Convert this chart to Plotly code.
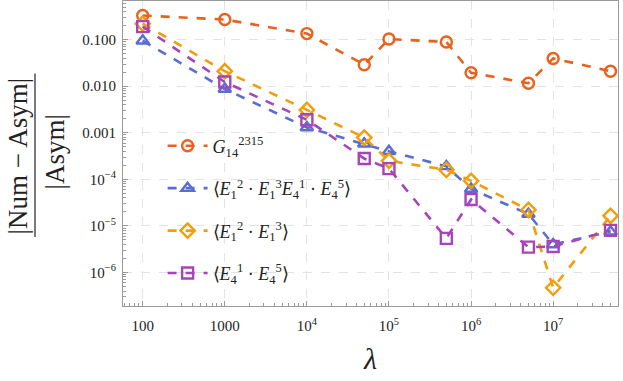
import plotly.graph_objects as go

# ---- data ----
lam = [1e2, 1e3, 1e4, 5e4, 1e5, 5e5, 1e6, 5e6, 1e7, 5e7]
g_2315 = [0.33, 0.27, 0.135, 0.029, 0.103, 0.089, 0.0195, 0.0116, 0.0395, 0.021]
e_full = [0.095, 0.0087, 0.0013, 0.00058, 0.0004, 0.00019, 6.2e-5, 1.8e-5, 4.0e-6, 7.5e-6]
e_12_13 = [0.22, 0.021, 0.0031, 0.00079, 0.00025, 0.00016, 9.3e-5, 2.2e-5, 4.7e-7, 1.65e-5]
e_41_45 = [0.19, 0.0123, 0.0019, 0.00028, 0.00017, 5.4e-6, 3.7e-5, 3.5e-6, 3.6e-6, 8.0e-6]

names = [
    "<i>G</i><sub>14</sub><sup>2315</sup>",
    "⟨<i>E</i><sub>1</sub><sup>2</sup> · <i>E</i><sub>1</sub><sup>3</sup><i>E</i><sub>4</sub><sup>1</sup> · <i>E</i><sub>4</sub><sup>5</sup>⟩",
    "⟨<i>E</i><sub>1</sub><sup>2</sup> · <i>E</i><sub>1</sub><sup>3</sup>⟩",
    "⟨<i>E</i><sub>4</sub><sup>1</sup> · <i>E</i><sub>4</sub><sup>5</sup>⟩",
]
series = [g_2315, e_full, e_12_13, e_41_45]
colors = ["#E8621D", "#5A6ED0", "#F29D0C", "#A545B9"]
symbols = ["circle-open", "triangle-up-open", "diamond-open", "square-open"]

x_tickvals = [1e2, 1e3, 1e4, 1e5, 1e6, 1e7]
x_ticktext = ["100", "1000", "10<sup>4</sup>", "10<sup>5</sup>", "10<sup>6</sup>", "10<sup>7</sup>"]
y_tickvals = [1e-6, 1e-5, 1e-4, 1e-3, 1e-2, 1e-1]
y_ticktext = ["10<sup>−6</sup>", "10<sup>−5</sup>", "10<sup>−4</sup>", "0.001", "0.010", "0.100"]

FONT = "Liberation Serif"

fig = go.Figure()
for i, (ys, nm, c, s) in enumerate(zip(series, names, colors, symbols)):
    fig.add_trace(go.Scatter(
        x=lam, y=ys, name=nm, mode="lines+markers",
        line=dict(color=c, width=2.6, dash="dash"),
        marker=dict(symbol=s, size=11, color=c, line=dict(color=c, width=2.4)),
        legendgroup=str(i),
    ))

minor_x = [m * 10 ** e for e in range(1, 8) for m in range(2, 10)]
minor_y = [m * 10.0 ** e for e in range(-7, 0) for m in range(2, 10)]

axis_common = dict(
    type="log", showline=True, linecolor="#9a9a9a", linewidth=1.2, mirror=True,
    ticks="inside", ticklen=5, tickcolor="#9a9a9a", tickwidth=1,
    showgrid=True, gridcolor="#e3e3e3", griddash="dash", gridwidth=1,
    zeroline=False, tickfont=dict(family=FONT, size=15, color="#222"),
)

fig.update_xaxes(
    **axis_common, range=[1.76, 7.79], tickmode="array",
    tickvals=x_tickvals, ticktext=x_ticktext, ticklabelstandoff=6,
    minor=dict(tickvals=minor_x, ticks="inside", ticklen=3, tickcolor="#9a9a9a", showgrid=False),
    title=dict(text="<i>λ</i>", font=dict(family=FONT, size=30, color="#222"), standoff=14),
)
fig.update_yaxes(
    **axis_common, range=[-6.72, -0.17], tickmode="array",
    tickvals=y_tickvals, ticktext=y_ticktext, ticklabelstandoff=3,
    minor=dict(tickvals=minor_y, ticks="inside", ticklen=3, tickcolor="#9a9a9a", showgrid=False),
)

# y-axis title as fraction
fig.add_annotation(text="|Num − Asym|", xref="paper", yref="paper", x=0, y=0.5,
                   xanchor="center", yanchor="middle",
                   xshift=-106, yshift=-3, textangle=-90, showarrow=False,
                   font=dict(family=FONT, size=27, color="#222"))
fig.add_annotation(text="|Asym|", xref="paper", yref="paper", x=0, y=0.5,
                   xanchor="center", yanchor="middle",
                   xshift=-69, yshift=1, textangle=-90, showarrow=False,
                   font=dict(family=FONT, size=27, color="#222"))
fig.add_shape(type="line", xref="paper", yref="paper", xsizemode="pixel", xanchor=0,
              x0=-88, x1=-88, y0=0.226, y1=0.762, line=dict(color="#222", width=1.2))

fig.update_layout(
    width=623, height=381,
    margin=dict(l=123, r=5, t=1, b=75),
    paper_bgcolor="white", plot_bgcolor="white",
    showlegend=True,
    legend=dict(x=0.08, y=0.585, xanchor="left", yanchor="top",
                bgcolor="rgba(0,0,0,0)", traceorder="grouped", tracegroupgap=16,
                font=dict(family=FONT, size=18, color="#222"), itemwidth=40),
)

fig.write_html("out.html", config={"displayModeBar": False},
               post_script="document.body.style.margin='0';")
